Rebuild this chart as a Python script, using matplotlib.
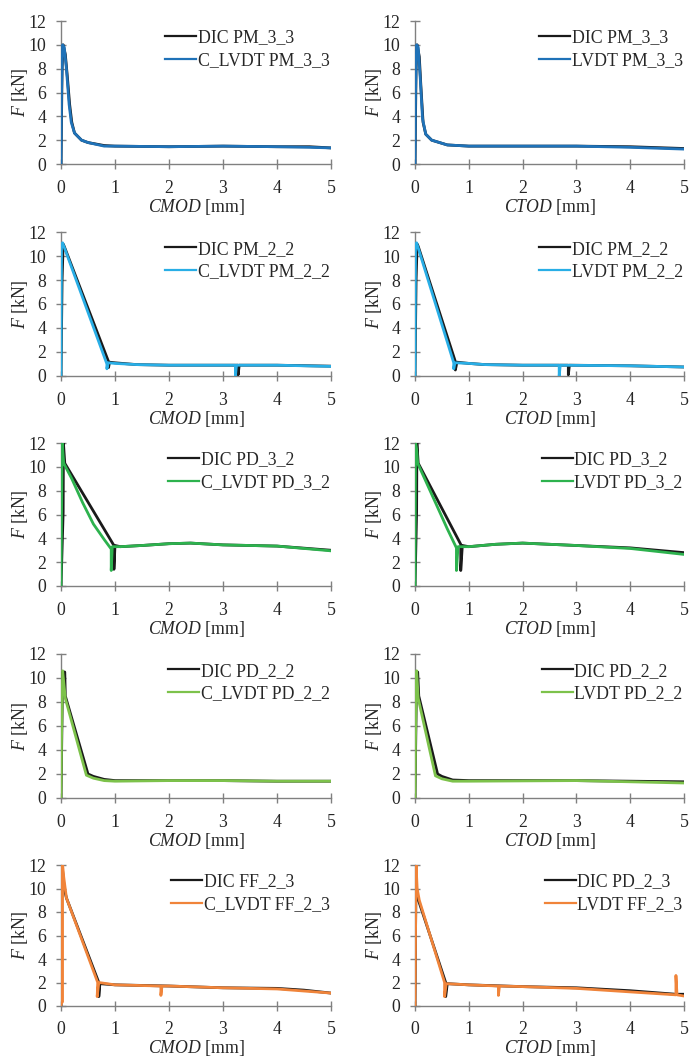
import matplotlib
matplotlib.use("Agg")
import matplotlib.pyplot as plt

plt.rcParams['font.family'] = ['Liberation Serif', 'DejaVu Serif']
plt.rcParams['mathtext.fontset'] = 'custom'
plt.rcParams['mathtext.rm'] = 'Liberation Serif'
plt.rcParams['mathtext.it'] = 'Liberation Serif:italic'

# ---------------- data ----------------
# Row 1: PM_3_3
pm33_cmod_dic_x = [0, 0.02, 0.04, 0.08, 0.12, 0.16, 0.2, 0.25, 0.38, 0.5, 0.8, 1, 2, 3, 4, 4.6, 5]
pm33_cmod_dic_y = [0, 8, 10, 9.2, 7.2, 5, 3.5, 2.6, 2.0, 1.8, 1.55, 1.5, 1.45, 1.5, 1.45, 1.45, 1.35]
pm33_cmod_lvdt_x = [0, 0.01, 0.03, 0.06, 0.1, 0.15, 0.19, 0.25, 0.38, 0.5, 0.8, 1, 2, 3, 4, 4.6, 5]
pm33_cmod_lvdt_y = [0, 6, 10, 9.8, 8, 5, 3.5, 2.6, 2.0, 1.8, 1.5, 1.5, 1.45, 1.5, 1.45, 1.4, 1.35]

pm33_ctod_dic_x = [0, 0.02, 0.04, 0.08, 0.11, 0.15, 0.2, 0.31, 0.6, 1, 2, 3, 4, 5]
pm33_ctod_dic_y = [0, 8, 10, 9, 6.5, 3.5, 2.5, 2.0, 1.6, 1.5, 1.5, 1.5, 1.45, 1.3]
pm33_ctod_lvdt_x = [0, 0.01, 0.03, 0.06, 0.1, 0.14, 0.2, 0.31, 0.6, 1, 2, 3, 4, 5]
pm33_ctod_lvdt_y = [0, 6, 10, 9.8, 7, 3.8, 2.5, 2.0, 1.6, 1.5, 1.5, 1.5, 1.4, 1.25]

# Row 2: PM_2_2
pm22_cmod_dic_x = [0, 0.02, 0.04, 0.06, 0.88, 0.88, 0.9, 1.0, 1.4, 2, 3.28, 3.28, 3.3, 4, 5]
pm22_cmod_dic_y = [0, 8, 11, 10.8, 1.2, 0.7, 1.15, 1.1, 0.95, 0.9, 0.9, 0.1, 0.9, 0.9, 0.82]
pm22_cmod_lvdt_x = [0, 0.01, 0.03, 0.85, 0.85, 0.87, 1.0, 1.4, 2, 3.23, 3.23, 3.25, 4, 5]
pm22_cmod_lvdt_y = [0, 11, 11.1, 1.0, 0.6, 1.1, 1.05, 0.95, 0.9, 0.9, 0.0, 0.9, 0.9, 0.8]

pm22_ctod_dic_x = [0, 0.02, 0.04, 0.06, 0.75, 0.75, 0.78, 1.0, 1.3, 2, 2.85, 2.85, 2.87, 4, 5]
pm22_ctod_dic_y = [0, 8, 11, 10.8, 1.2, 0.5, 1.15, 1.05, 0.95, 0.9, 0.9, 0.1, 0.9, 0.85, 0.75]
pm22_ctod_lvdt_x = [0, 0.01, 0.03, 0.72, 0.72, 0.74, 1.0, 1.3, 2, 2.68, 2.68, 2.7, 4, 5]
pm22_ctod_lvdt_y = [0, 11, 11.1, 1.1, 0.6, 1.1, 1.05, 0.95, 0.9, 0.9, 0.0, 0.9, 0.85, 0.75]

# Row 3: PD_3_2
pd32_cmod_dic_x = [0, 0.04, 0.045, 0.07, 0.98, 0.98, 1.0, 1.1, 1.5, 2, 2.4, 3, 4, 5]
pd32_cmod_dic_y = [0, 6.2, 12, 10.3, 3.4, 1.4, 3.4, 3.3, 3.4, 3.55, 3.6, 3.45, 3.35, 3.0]
pd32_cmod_lvdt_x = [0, 0.02, 0.03, 0.05, 0.2, 0.4, 0.6, 0.8, 0.93, 0.93, 0.95, 1.1, 1.5, 2, 2.4, 3, 4, 5]
pd32_cmod_lvdt_y = [0, 12, 11.5, 10.3, 9, 7, 5.2, 3.9, 3.1, 1.3, 3.3, 3.3, 3.4, 3.55, 3.6, 3.45, 3.35, 2.95]

pd32_ctod_dic_x = [0, 0.03, 0.035, 0.06, 0.85, 0.85, 0.88, 1.0, 1.5, 2, 2.5, 3, 4, 5]
pd32_ctod_dic_y = [0, 6.2, 12, 10.3, 3.5, 1.3, 3.4, 3.3, 3.5, 3.6, 3.5, 3.4, 3.2, 2.8]
pd32_ctod_lvdt_x = [0, 0.01, 0.03, 0.05, 0.2, 0.4, 0.6, 0.77, 0.77, 0.8, 1.0, 1.5, 2, 2.5, 3, 4, 5]
pd32_ctod_lvdt_y = [0, 12, 11.5, 10.3, 8.8, 6.8, 4.8, 3.2, 1.3, 3.3, 3.3, 3.5, 3.6, 3.5, 3.4, 3.15, 2.65]

# Row 4: PD_2_2
pd22_cmod_dic_x = [0, 0.03, 0.07, 0.08, 0.5, 0.6, 0.8, 1, 2, 3, 4, 5]
pd22_cmod_dic_y = [0, 10.5, 10.5, 8.5, 2.0, 1.8, 1.55, 1.45, 1.45, 1.45, 1.4, 1.4]
pd22_cmod_lvdt_x = [0, 0.01, 0.03, 0.08, 0.47, 0.6, 0.8, 1, 2, 3, 4, 5]
pd22_cmod_lvdt_y = [0, 5, 10.6, 8.3, 1.9, 1.65, 1.45, 1.4, 1.45, 1.45, 1.4, 1.4]

pd22_ctod_dic_x = [0, 0.03, 0.05, 0.07, 0.42, 0.5, 0.7, 1, 3, 5]
pd22_ctod_dic_y = [0, 10.5, 10.5, 8.5, 2.0, 1.8, 1.5, 1.45, 1.45, 1.35]
pd22_ctod_lvdt_x = [0, 0.01, 0.03, 0.06, 0.38, 0.5, 0.7, 1, 3, 4, 5]
pd22_ctod_lvdt_y = [0, 5, 10.6, 8.3, 1.85, 1.6, 1.4, 1.4, 1.45, 1.35, 1.25]

# Row 5: FF_2_3
ff23_cmod_dic_x = [0, 0.02, 0.06, 0.1, 0.7, 0.7, 0.72, 1, 2, 3, 4, 4.5, 5]
ff23_cmod_dic_y = [0, 12, 10, 9.2, 2.0, 0.8, 1.9, 1.8, 1.7, 1.55, 1.5, 1.35, 1.1]
ff23_cmod_lvdt_x = [0, 0.01, 0.02, 0.03, 0.05, 0.1, 0.68, 0.67, 0.7, 1, 1.85, 1.85, 1.87, 2, 3, 4, 5]
ff23_cmod_lvdt_y = [0, 12, 0.3, 12, 11, 9.2, 2.0, 0.8, 2.0, 1.8, 1.7, 0.9, 1.7, 1.7, 1.55, 1.45, 1.1]

ff23_ctod_dic_x = [0, 0.02, 0.03, 0.05, 0.57, 0.57, 0.6, 1, 2, 3, 4, 4.85, 5]
ff23_ctod_dic_y = [0, 12, 10, 9.2, 2.0, 0.8, 1.9, 1.8, 1.65, 1.55, 1.3, 1.0, 1.0]
ff23_ctod_lvdt_x = [0, 0.02, 0.04, 0.08, 0.55, 0.55, 0.58, 1, 1.55, 1.55, 1.57, 2, 3, 4, 4.85, 4.85, 4.87, 5]
ff23_ctod_lvdt_y = [0, 12, 10, 9.0, 2.0, 0.8, 1.9, 1.8, 1.7, 0.9, 1.7, 1.65, 1.5, 1.2, 0.95, 2.6, 0.95, 0.85]

row_colors = ['#1f72b8', '#29aee6', '#2db24e', '#7dc24b', '#f0843a']

left_panels = [
    (pm33_cmod_dic_x, pm33_cmod_dic_y, pm33_cmod_lvdt_x, pm33_cmod_lvdt_y, 'DIC PM_3_3', 'C_LVDT PM_3_3'),
    (pm22_cmod_dic_x, pm22_cmod_dic_y, pm22_cmod_lvdt_x, pm22_cmod_lvdt_y, 'DIC PM_2_2', 'C_LVDT PM_2_2'),
    (pd32_cmod_dic_x, pd32_cmod_dic_y, pd32_cmod_lvdt_x, pd32_cmod_lvdt_y, 'DIC PD_3_2', 'C_LVDT PD_3_2'),
    (pd22_cmod_dic_x, pd22_cmod_dic_y, pd22_cmod_lvdt_x, pd22_cmod_lvdt_y, 'DIC PD_2_2', 'C_LVDT PD_2_2'),
    (ff23_cmod_dic_x, ff23_cmod_dic_y, ff23_cmod_lvdt_x, ff23_cmod_lvdt_y, 'DIC FF_2_3', 'C_LVDT FF_2_3'),
]
right_panels = [
    (pm33_ctod_dic_x, pm33_ctod_dic_y, pm33_ctod_lvdt_x, pm33_ctod_lvdt_y, 'DIC PM_3_3', 'LVDT PM_3_3'),
    (pm22_ctod_dic_x, pm22_ctod_dic_y, pm22_ctod_lvdt_x, pm22_ctod_lvdt_y, 'DIC PM_2_2', 'LVDT PM_2_2'),
    (pd32_ctod_dic_x, pd32_ctod_dic_y, pd32_ctod_lvdt_x, pd32_ctod_lvdt_y, 'DIC PD_3_2', 'LVDT PD_3_2'),
    (pd22_ctod_dic_x, pd22_ctod_dic_y, pd22_ctod_lvdt_x, pd22_ctod_lvdt_y, 'DIC PD_2_2', 'LVDT PD_2_2'),
    (ff23_ctod_dic_x, ff23_ctod_dic_y, ff23_ctod_lvdt_x, ff23_ctod_lvdt_y, 'DIC PD_2_3', 'LVDT FF_2_3'),
]

x_ticks = [0, 1, 2, 3, 4, 5]
y_ticks = [0, 2, 4, 6, 8, 10, 12]

# ---------------- layout ----------------
W, H = 691, 1061
fig = plt.figure(figsize=(W / 100, H / 100), dpi=100)
col_lr = [(61, 331), (415, 684)]
row_tb = [(21, 164), (232, 376), (443, 586), (654, 798), (865, 1006)]
fs = 12.8
txt_col = '#262626'
spine_col = '#808080'

for c, (panels, xname) in enumerate([(left_panels, 'CMOD'), (right_panels, 'CTOD')]):
    l, r = col_lr[c]
    for i, (dx, dy, lx, ly, dl, ll) in enumerate(panels):
        t, b = row_tb[i]
        ax = fig.add_axes([l / W, 1 - b / H, (r - l) / W, (b - t) / H])
        ax.plot(dx, dy, color='#1a1a1a', lw=2.0, label=dl, solid_joinstyle='round', zorder=2)
        ax.plot(lx, ly, color=row_colors[i], lw=2.0, label=ll, solid_joinstyle='round', zorder=3)
        ax.set_xlim(0, 5)
        ax.set_ylim(0, 12)
        ax.set_xticks(x_ticks)
        ax.set_yticks(y_ticks)
        for s in ['top', 'right']:
            ax.spines[s].set_visible(False)
        for s in ['left', 'bottom']:
            ax.spines[s].set_color(spine_col)
            ax.spines[s].set_linewidth(1.0)
        ax.tick_params(axis='both', direction='inout', length=7, width=1.0,
                       color=spine_col, labelsize=fs, labelcolor=txt_col)
        ax.tick_params(axis='x', pad=(7 if i == 4 else 8))
        ax.tick_params(axis='y', pad=7)
        ax.set_xlabel(r'$\mathit{' + xname + r'}$ [mm]', fontsize=fs, color=txt_col,
                      labelpad=0)
        ax.set_ylabel(r'$\mathit{F}$ [kN]', fontsize=fs, color=txt_col, labelpad=-1)
        for sp in ax.spines.values():
            sp.set_zorder(1)
        leg = ax.legend(loc='upper right', bbox_to_anchor=(0.995, 0.94), frameon=False,
                        fontsize=fs, handlelength=1.75, handletextpad=0.1,
                        labelspacing=0.32, borderaxespad=0, borderpad=0)
        for ln in leg.get_lines():
            ln.set_linewidth(1.6)
        for txt in leg.get_texts():
            txt.set_color(txt_col)

fig.savefig('out.png', dpi=100)
